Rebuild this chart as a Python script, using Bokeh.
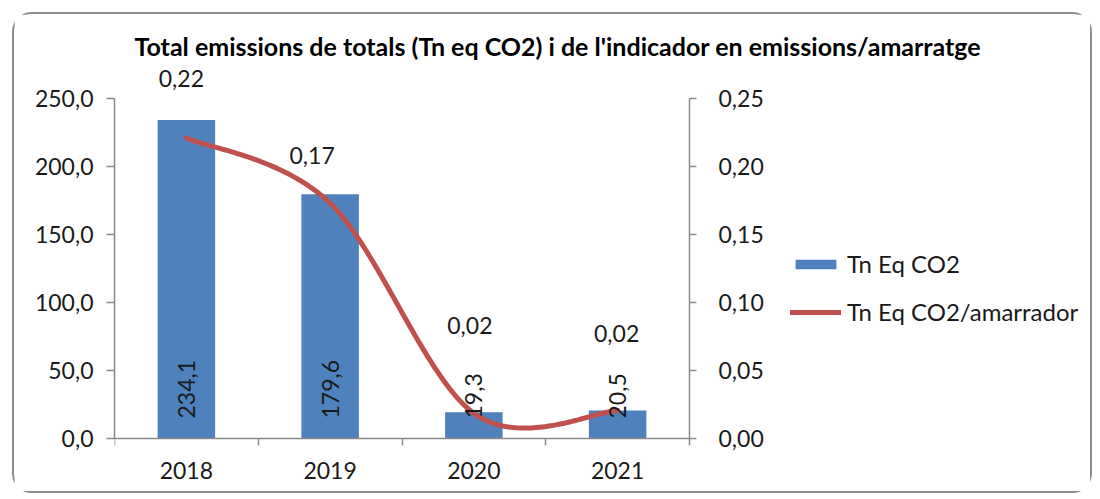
import numpy as np
from bokeh.plotting import figure
from bokeh.models import (ColumnDataSource, LinearAxis, Range1d, FixedTicker,
                          CustomJSTickFormatter, Legend, LegendItem, Title)
from bokeh.embed import file_html
from bokeh.resources import INLINE
from bokeh.core.properties import value

# ---------------- data ----------------
years = ["2018", "2019", "2020", "2021"]
emissions = [234.1, 179.6, 19.3, 20.5]                 # Tn Eq CO2
per_mooring = [0.221, 0.173, 0.0185, 0.0205]           # Tn Eq CO2/amarrador
emission_labels = ["234,1", "179,6", "19,3", "20,5"]
ratio_labels = ["0,22", "0,17", "0,02", "0,02"]
left_ticks = [0, 50, 100, 150, 200, 250]
right_ticks = [0, 0.05, 0.10, 0.15, 0.20, 0.25]

# placement of the line's data labels (screen px, relative to the point)
ratio_label_dx = [-5, -18, -4, -1]
ratio_label_dy = [-59, -48, -88, -77]

TITLE = "Total emissions de totals (Tn eq CO2) i de l'indicador en emissions/amarratge"
FONT = "Lato"
BLUE = "#4F81BD"
RED = "#C0504D"
AXIS = "#8a8a8a"
TXT = "#1a1a1a"
FS = "23px"

# ---------------- geometry ----------------
W, H = 1080, 481
B_LEFT, B_TOP, B_RIGHT, B_BOTTOM = 100, 46, 4, 1
PLOT_W = 575                 # width of the bar area (4 categories)
PX_PER_250 = 340.0           # pixels between 0 and 250 on the left axis
ABOVE_PX = 38                # frame room above the 250 line
FRAME_W = W - B_LEFT - B_RIGHT
FRAME_H = H - B_TOP - B_BOTTOM
BELOW_PX = FRAME_H - PX_PER_250 - ABOVE_PX   # frame room below the 0 line
ncat = len(years)
x_end = ncat * FRAME_W / PLOT_W
y_top = 250 * (PX_PER_250 + ABOVE_PX) / PX_PER_250
y_bot = -250 * BELOW_PX / PX_PER_250
y2_top = 0.25 * (PX_PER_250 + ABOVE_PX) / PX_PER_250
y2_bot = -0.25 * BELOW_PX / PX_PER_250

xc = [i + 0.5 for i in range(ncat)]

p = figure(width=W, height=H, output_backend="svg", toolbar_location=None,
           x_range=Range1d(0, x_end), y_range=Range1d(y_bot, y_top),
           min_border_left=B_LEFT, min_border_right=B_RIGHT,
           min_border_top=B_TOP, min_border_bottom=B_BOTTOM,
           background_fill_color="white", border_fill_color="white")
p.extra_y_ranges = {"ratio": Range1d(y2_bot, y2_top)}
p.outline_line_color = None
p.xgrid.visible = False
p.ygrid.visible = False
p.title.visible = False
p.styles = {"margin-left": "12px", "margin-top": "12px",
            "border": "2px solid #8c8c8c", "border-radius": "20px"}

t = Title(text=TITLE, align="left", offset=20,
          text_font=FONT, text_font_size="25px", text_font_style="bold",
          text_color="#000000", standoff=0)
p.add_layout(t, "above")

# ---------------- glyphs ----------------
bar_src = ColumnDataSource(dict(x=xc, y=emissions, lab=emission_labels))
bars = p.vbar(x="x", top="y", bottom=0, width=0.4, source=bar_src,
              fill_color=BLUE, line_color=None)

# Excel-style smoothed line (bezier through the points)
pts = np.array([xc, per_mooring], dtype=float).T
n = len(pts)
curve_x, curve_y = [], []
for i in range(n - 1):
    p0 = pts[max(i - 1, 0)]
    p1 = pts[i]
    p2 = pts[i + 1]
    p3 = pts[min(i + 2, n - 1)]
    c1 = p1 + (p2 - p0) / 6.0
    c2 = p2 - (p3 - p1) / 6.0
    tt = np.linspace(0, 1, 60)[:, None]
    seg = ((1 - tt) ** 3) * p1 + 3 * ((1 - tt) ** 2) * tt * c1 + 3 * (1 - tt) * tt ** 2 * c2 + tt ** 3 * p2
    if i > 0:
        seg = seg[1:]
    curve_x.extend(seg[:, 0])
    curve_y.extend(seg[:, 1])
line = p.line(curve_x, curve_y, y_range_name="ratio", line_color=RED,
              line_width=5, line_cap="round", line_join="round")

# bar value labels (vertical, from the base)
p.text(x="x", y=0, text="lab", source=bar_src, angle=np.pi / 2,
       text_align="left", text_baseline="middle", y_offset=-20,
       text_font=value(FONT), text_font_size=FS, text_color=TXT)

# line value labels
lab_src = ColumnDataSource(dict(x=xc, y=per_mooring, lab=ratio_labels,
                                dx=ratio_label_dx, dy=ratio_label_dy))
p.text(x="x", y="y", text="lab", source=lab_src, y_range_name="ratio",
       x_offset="dx", y_offset="dy", text_align="center", text_baseline="middle",
       text_font=value(FONT), text_font_size=FS, text_color=TXT)

# ---------------- axes ----------------
def style_axis(ax):
    ax.axis_line_color = AXIS
    ax.axis_line_width = 1.5
    ax.major_tick_line_color = AXIS
    ax.major_tick_line_width = 1.5
    ax.minor_tick_line_color = AXIS
    ax.minor_tick_line_width = 1.5
    ax.major_label_text_font = FONT
    ax.major_label_text_font_size = FS
    ax.major_label_text_color = TXT

yl = p.yaxis[0]
yl.ticker = FixedTicker(ticks=left_ticks)
yl.bounds = (0, 250)
yl.formatter = CustomJSTickFormatter(code="return tick.toFixed(1).replace('.', ',');")
yl.major_tick_out = 8
yl.major_tick_in = 0
yl.major_label_standoff = 13
style_axis(yl)

# secondary axis placed at the right end of the category area
yr = LinearAxis(y_range_name="ratio", ticker=FixedTicker(ticks=right_ticks),
                bounds=(0, 0.25), fixed_location=ncat,
                formatter=CustomJSTickFormatter(code="return tick.toFixed(2).replace('.', ',');"))
yr.major_tick_out = 7
yr.major_tick_in = 0
yr.major_label_standoff = 22
style_axis(yr)
p.add_layout(yr, "right")

# category axis placed at value 0
xa = p.xaxis[0]
xa.fixed_location = 0
xa.ticker = FixedTicker(ticks=xc, minor_ticks=list(range(ncat + 1)))
xa.bounds = (0, ncat)
xa.formatter = CustomJSTickFormatter(args=dict(labels=years),
                                     code="return labels[Math.floor(tick)] || '';")
xa.major_tick_out = 0
xa.major_tick_in = 0
xa.minor_tick_out = 7
xa.minor_tick_in = 0
xa.major_label_standoff = 16
style_axis(xa)

# ---------------- legend ----------------
legend = Legend(items=[LegendItem(label="Tn Eq CO2", renderers=[bars]),
                       LegendItem(label="Tn Eq CO2/amarrador", renderers=[line])],
                location=(676, 112 + BELOW_PX), orientation="vertical",
                glyph_width=51, glyph_height=12, label_height=24,
                label_standoff=6, spacing=19, padding=0, margin=0,
                background_fill_alpha=0, border_line_color=None,
                label_text_font=FONT, label_text_font_size="24px",
                label_text_color=TXT)
p.add_layout(legend, "center")

open("out.html", "w").write(file_html(p, INLINE))
